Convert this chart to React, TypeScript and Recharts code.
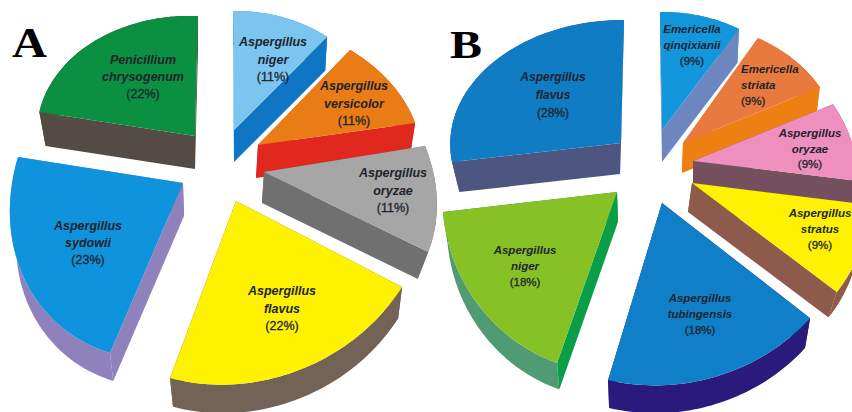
import React from 'react';
import { PieChart, Pie } from 'recharts';

const speciesA = ['Aspergillus niger', 'Aspergillus versicolor', 'Aspergillus oryzae', 'Aspergillus flavus', 'Aspergillus sydowii', 'Penicillium chrysogenum'];
const valuesA = [11, 11, 11, 22, 23, 22];
const speciesB = ['Emericella qinqixianii', 'Emericella striata', 'Aspergillus oryzae', 'Aspergillus stratus', 'Aspergillus tubingensis', 'Aspergillus niger', 'Aspergillus flavus'];
const valuesB = [9, 9, 9, 9, 18, 18, 28];

type Look = {
  apex: number[]; m: number[]; e: number[]; ds: number; fill: string; side: string; arc?: string;
  label: number[]; lh: number; size?: number; anchor?: string; bulge?: number;
};

// Slice looks: apex shift, tilt matrix (rx, kx, ry, ky), extrusion, colours, label offset.
const looksA: Look[] = [
  { apex: [-6, -40], m: [147.2, -1, 119, -2.2], e: [0, 32], ds: 0.98, fill: '#7cc5ef', side: '#0f75c5', label: [39, -88], lh: 17.5 },
  { apex: [18, -25], m: [162.8, -15.2, 124.5, 1.4], e: [-2, 33], ds: 0.98, fill: '#e97c14', side: '#e0281f', label: [96, -59], lh: 17.5 },
  { apex: [24, 2], m: [170, -31.4, 159, 3.9], e: [-2, 31], ds: 0.95, fill: '#a6a6a6', side: '#707070', label: [129, 1], lh: 17.5 },
  { apex: [-4, 31], m: [193.2, 6.6, 185, -3.6], e: [1, 34], ds: 0.97, fill: '#fff200', side: '#736357', label: [46, 90], lh: 17.5, bulge: -0.012 },
  { apex: [-57, 13], m: [171.9, 20.9, 176.4, -7.1], e: [1, 33], ds: 0.97, fill: '#0f93dd', side: '#8f82bc', label: [-95, 43], lh: 17 },
  { apex: [-45, -34], m: [159, 3, 120, 1.6], e: [0, 33], ds: 0.96, fill: '#0b9042', side: '#544c44', label: [-52, -76], lh: 17, bulge: 0.015 },
];
const looksB: Look[] = [
  { apex: [7, -40], m: [146.8, -2, 118, -2.6], e: [0, 32], ds: 0.98, fill: '#1296dc', side: '#6c87c0', label: [30, -101], lh: 16, size: 11.5 },
  { apex: [28, -27], m: [156, -10.3, 121.3, -4.8], e: [-1, 30], ds: 0.98, fill: '#e8793f', side: '#ee7f12', label: [58, -74], lh: 16, size: 11.5, anchor: 'start' },
  { apex: [38, -9], m: [163.8, -19.4, 139, 2.6], e: [0, 30], ds: 0.98, fill: '#ee8fbd', side: '#74505e', label: [117, -28], lh: 15.5, size: 11.5 },
  { apex: [37, 13], m: [177.8, -12.3, 170, 0.7], e: [-4, 29], ds: 0.97, fill: '#fff200', side: '#8e5a4b', label: [128, 30], lh: 16, size: 11.5 },
  { apex: [7, 33], m: [196.5, 5.2, 182.4, -1.4], e: [-0.6, 33.3], ds: 0.97, fill: '#0f7fc8', side: '#2a1a7c', label: [38, 95], lh: 16, size: 11.5 },
  { apex: [-38, 22], m: [173.9, 17.2, 180, 13.9], e: [1, 30], ds: 0.98, fill: '#86c226', side: '#0a9e48', arc: '#4f9b73', label: [-92, 58], lh: 16, size: 11.5 },
  { apex: [-34, -27], m: [171.5, 3, 123, 4.07], e: [-1, 31], ds: 0.95, fill: '#0f7cc4', side: '#4c5680', label: [-68, -66], lh: 18, size: 12, bulge: -0.015 },
];

const rowsA = speciesA.map((name, i) => ({ name, value: valuesA[i], panel: 'A', slot: i }));
const rowsB = speciesB.map((name, i) => ({ name, value: valuesB[i], panel: 'B', slot: i }));

const lookOf = (p: any): Look => {
  const row = p.payload && p.payload.panel ? p.payload : p;
  return (row.panel === 'A' ? looksA : looksB)[row.slot];
};

const RAD = Math.PI / 180;
const toPath = (pts: number[][]) => 'M' + pts.map((q) => q[0].toFixed(1) + ',' + q[1].toFixed(1)).join('L') + 'Z';

function SliceShape(p: any) {
  const k = lookOf(p);
  const s = p.outerRadius / 150;
  const ax = p.cx + k.apex[0] * s;
  const ay = p.cy + k.apex[1] * s;
  const t0 = 90 - p.startAngle;
  const t1 = 90 - p.endAngle;
  const arcPts = (ox: number, oy: number, scale: number) => {
    const out: number[][] = [];
    const n = 48;
    for (let i = 0; i <= n; i++) {
      const f = i / n;
      const th = (t0 + (t1 - t0) * f) * RAD;
      const b = 1 + (k.bulge || 0) * Math.sin(Math.PI * f);
      const x = (k.m[0] * Math.sin(th) + k.m[1] * Math.cos(th)) * s * scale * b;
      const y = (k.m[3] * Math.sin(th) - k.m[2] * Math.cos(th)) * s * scale * b;
      out.push([ox + x, oy + y]);
    }
    return out;
  };
  const bx = ax + k.e[0] * s;
  const by = ay + k.e[1] * s;
  const top = arcPts(ax, ay, 1);
  const low = arcPts(bx, by, k.ds);
  const first = 0;
  const last = top.length - 1;
  return (
    <g>
      <path d={toPath([...top, ...low.slice().reverse()])} fill={k.arc || k.side} />
      <path d={toPath([[ax, ay], top[first], low[first], [bx, by]])} fill={k.side} />
      <path d={toPath([[ax, ay], top[last], low[last], [bx, by]])} fill={k.side} />
      <path d={toPath([[ax, ay], ...top])} fill={k.fill} />
    </g>
  );
}

function SliceLabel(p: any) {
  const k = lookOf(p);
  const s = p.outerRadius / 150;
  const row = p.payload && p.payload.panel ? p.payload : p;
  const x = p.cx + (k.apex[0] + k.label[0]) * s;
  const y = p.cy + (k.apex[1] + k.label[1]) * s;
  const lines = [...String(row.name).split(' ')];
  return (
    <text x={x} y={y} textAnchor={(k.anchor as any) || 'middle'} fontFamily="Liberation Sans, Arial, sans-serif" fontSize={k.size || 12.5} fill="#20242c" stroke="none">
      {lines.map((t, i) => (
        <tspan key={t} x={x} y={y + i * k.lh + 4} fontWeight="bold" fontStyle="italic">{t}</tspan>
      ))}
      <tspan x={x} y={y + lines.length * k.lh + 4} stroke="#20242c" strokeWidth={0.3}>{'(' + row.value + '%)'}</tspan>
    </text>
  );
}

const renderLabel = (p: any) => <SliceLabel {...p} />;

export default function App() {
  return (
    <div style={{ position: 'absolute', left: 0, top: 0, width: 852, height: 412, overflow: 'hidden', background: '#fff' }}>
      <PieChart width={852} height={412} margin={{ top: 0, right: 0, bottom: 0, left: 0 }}>
        <Pie data={rowsA} dataKey="value" nameKey="name" cx={240} cy={170} innerRadius={0} outerRadius={150} startAngle={90} endAngle={-270} stroke="none" shape={SliceShape} label={renderLabel} labelLine={false} isAnimationActive={false} />
        <Pie data={rowsB} dataKey="value" nameKey="name" cx={655} cy={170} innerRadius={0} outerRadius={150} startAngle={90} endAngle={-270} stroke="none" shape={SliceShape} label={renderLabel} labelLine={false} isAnimationActive={false} />
        <text x={12} y={57} fontFamily="Liberation Serif, serif" fontWeight="bold" fontSize={43} textLength={35} lengthAdjust="spacingAndGlyphs" fill="#000">A</text>
        <text x={450} y={58} fontFamily="Liberation Serif, serif" fontWeight="bold" fontSize={41} textLength={32} lengthAdjust="spacingAndGlyphs" fill="#000">B</text>
      </PieChart>
    </div>
  );
}
